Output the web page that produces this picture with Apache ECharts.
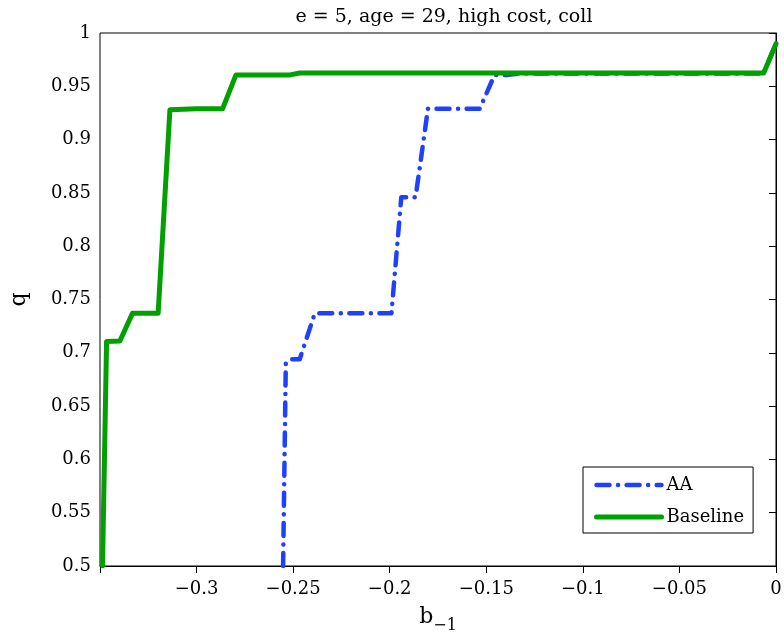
<!DOCTYPE html>
<html>
<head>
<meta charset="utf-8">
<script src="https://cdn.jsdelivr.net/npm/echarts@6/dist/echarts.min.js"></script>
<style>html,body{margin:0;padding:0;background:#fff;}#c{width:784px;height:634px;}</style>
</head>
<body>
<div id="c"></div>
<script>
var titleText = 'e = 5, age = 29, high cost, coll';
var seriesNames = ['AA', 'Baseline'];
var aaX = [-0.2552, -0.2538, -0.2509, -0.2466, -0.2388, -0.1991, -0.1940, -0.1866, -0.1802, -0.1534, -0.1457, -0.1397, -0.1330, -0.0064, 0];
var aaY = [0.5, 0.6906, 0.694, 0.694, 0.737, 0.737, 0.846, 0.846, 0.929, 0.929, 0.9607, 0.9607, 0.962, 0.962, 0.99];
var baseX = [-0.3487, -0.3466, -0.3397, -0.3332, -0.3199, -0.3138, -0.3000, -0.2865, -0.2796, -0.2516, -0.2466, -0.0064, 0];
var baseY = [0.5, 0.7107, 0.711, 0.737, 0.737, 0.928, 0.929, 0.929, 0.9607, 0.9607, 0.9624, 0.9624, 0.99];
var xTicks = [-0.35, -0.3, -0.25, -0.2, -0.15, -0.1, -0.05, 0];
var yTicks = [0.5, 0.55, 0.6, 0.65, 0.7, 0.75, 0.8, 0.85, 0.9, 0.95, 1];

function zip(a, b) { return a.map(function (v, i) { return [v, b[i]]; }); }
var FONT = 'DejaVu Serif';
var BLUE = '#2040ff', GREEN = '#00a000';
var AA_LINE = {color: BLUE, width: 4.5, type: [13, 8.5, 0.1, 8.5], cap: 'round', join: 'round'};
var BASE_LINE = {color: GREEN, width: 5, cap: 'round', join: 'round'};
var chart = echarts.init(document.getElementById('c'), null, {renderer: 'canvas'});
chart.setOption({
  animation: false,
  backgroundColor: '#fff',
  title: {
    text: titleText, left: 439, top: 3, textAlign: 'center',
    textStyle: {fontFamily: FONT, fontSize: 19, fontWeight: 'normal', color: '#000'}
  },
  grid: {left: 100, right: 8, top: 33, bottom: 68, containLabel: false, outerBoundsMode: 'none',
         show: true, borderColor: '#000', borderWidth: 1, backgroundColor: 'transparent'},
  legend: {
    show: true, orient: 'vertical', left: 583, top: 467,
    backgroundColor: '#fff', borderColor: '#000', borderWidth: 1, borderRadius: 0,
    padding: [6, 9, 4, 11], itemGap: 8, itemWidth: 65, itemHeight: 14,
    textStyle: {fontFamily: FONT, fontSize: 18, color: '#000', lineHeight: 24},
    itemStyle: {opacity: 0},
    data: [
      {name: seriesNames[0], itemStyle: {opacity: 0}, lineStyle: AA_LINE},
      {name: seriesNames[1], itemStyle: {opacity: 0}, lineStyle: BASE_LINE}
    ]
  },
  xAxis: {
    type: 'value', min: xTicks[0], max: xTicks[xTicks.length - 1], interval: 0.05,
    name: '{b|b}{s|\u22121}', nameLocation: 'middle', nameGap: 40,
    nameTextStyle: {fontFamily: FONT, color: '#000',
      rich: {b: {fontFamily: FONT, fontSize: 22, color: '#000', verticalAlign: 'top', lineHeight: 28},
             s: {fontFamily: FONT, fontSize: 16, color: '#000', verticalAlign: 'bottom', lineHeight: 28}}},
    axisLine: {lineStyle: {color: '#000', width: 1}},
    axisTick: {inside: false, length: 7, lineStyle: {color: '#000'}},
    splitLine: {show: false},
    axisLabel: {fontFamily: FONT, fontSize: 18, color: '#000', margin: 14,
      formatter: function (v) {
        var r = parseFloat(v.toFixed(2));
        if (Math.abs(r - xTicks[0]) < 1e-9) return '';
        return r < 0 ? '\u2212' + String(-r) : String(r);
      }}
  },
  yAxis: {
    type: 'value', min: yTicks[0], max: yTicks[yTicks.length - 1], interval: 0.05,
    name: 'q', nameLocation: 'middle', nameGap: 70, nameRotate: 90,
    nameTextStyle: {fontFamily: FONT, fontSize: 22, color: '#000'},
    axisLine: {lineStyle: {color: '#000', width: 1}},
    axisTick: {inside: false, length: 7, lineStyle: {color: '#000'}},
    splitLine: {show: false},
    axisLabel: {fontFamily: FONT, fontSize: 18, color: '#000', margin: 9,
      formatter: function (v) { return String(parseFloat(v.toFixed(2))); }}
  },
  series: [
    {name: seriesNames[0], type: 'line', data: zip(aaX, aaY), showSymbol: false, symbol: 'none',
     lineStyle: AA_LINE, itemStyle: {color: BLUE}, z: 2},
    {name: seriesNames[1], type: 'line', data: zip(baseX, baseY), showSymbol: false, symbol: 'none',
     lineStyle: BASE_LINE, itemStyle: {color: GREEN}, z: 3}
  ]
});
</script>
</body>
</html>
